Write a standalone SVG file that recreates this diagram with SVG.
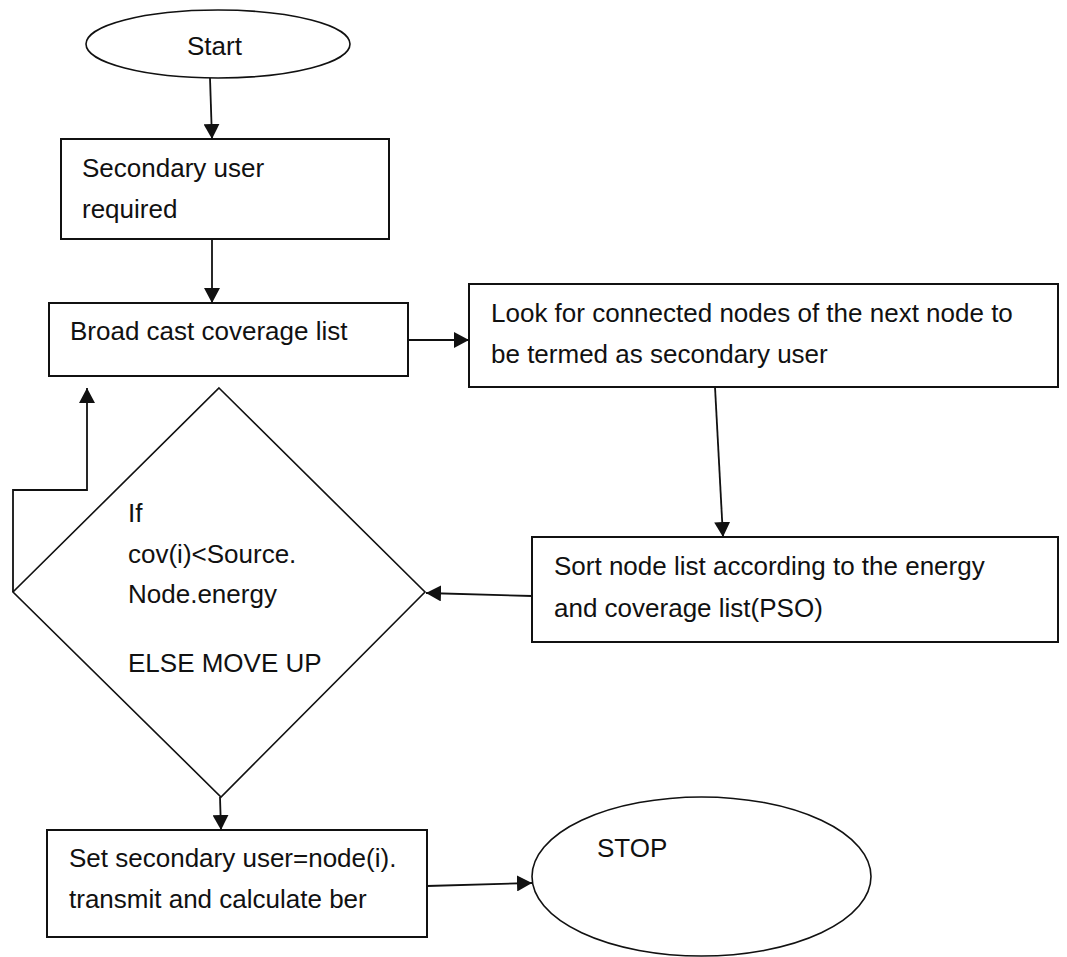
<svg xmlns="http://www.w3.org/2000/svg" width="1067" height="957" viewBox="0 0 1067 957">
  <style>
    .shape { fill: #ffffff; stroke: #111111; stroke-width: 2; }
    .thin { fill: #ffffff; stroke: #111111; stroke-width: 1.6; }
    .conn { fill: none; stroke: #111111; stroke-width: 1.8; }
    text { font-family: "Liberation Sans", Arial, sans-serif; font-size: 26px; fill: #111111; }
  </style>
  <defs>
    <marker id="arrow" markerUnits="userSpaceOnUse" markerWidth="16" markerHeight="16" viewBox="0 0 16 16" refX="15" refY="8" orient="auto">
      <path d="M0,0 L15,8 L0,16 Z" fill="#111111"/>
    </marker>
  </defs>
  <rect width="1067" height="957" fill="#ffffff"/>

  <g id="start">
    <ellipse class="thin" cx="218" cy="44" rx="132" ry="34"/>
    <text x="187" y="55">Start</text>
  </g>

  <g id="secondary-user">
    <rect class="shape" x="61" y="139" width="328" height="100"/>
    <text x="82" y="177">Secondary user</text>
    <text x="82" y="218">required</text>
  </g>

  <g id="broadcast">
    <rect class="shape" x="49" y="303" width="359" height="73"/>
    <text x="70" y="340">Broad cast coverage list</text>
  </g>

  <g id="look-for">
    <rect class="shape" x="469" y="284" width="589" height="103"/>
    <text x="491" y="322">Look for connected nodes of the next node to</text>
    <text x="491" y="363">be termed as secondary user</text>
  </g>

  <g id="sort">
    <rect class="shape" x="532" y="537" width="526" height="105"/>
    <text x="554" y="575">Sort node list according to the energy</text>
    <text x="554" y="617">and coverage list(PSO)</text>
  </g>

  <g id="decision">
    <polygon class="thin" points="219,388 425,592 221,797 13,592"/>
    <text x="128" y="522">If</text>
    <text x="128" y="563">cov(i)&lt;Source.</text>
    <text x="128" y="603">Node.energy</text>
    <text x="128" y="672">ELSE MOVE UP</text>
  </g>

  <g id="set-secondary">
    <rect class="shape" x="47" y="830" width="380" height="107"/>
    <text x="69" y="867">Set secondary user=node(i).</text>
    <text x="69" y="908">transmit and calculate ber</text>
  </g>

  <g id="stop">
    <ellipse class="thin" cx="701.5" cy="876.5" rx="169.5" ry="79.5"/>
    <text x="597" y="857">STOP</text>
  </g>

  <g id="connectors">
    <line class="conn" x1="210" y1="78" x2="212" y2="139" marker-end="url(#arrow)"/>
    <line class="conn" x1="212" y1="239" x2="212" y2="303" marker-end="url(#arrow)"/>
    <line class="conn" x1="408" y1="340" x2="469" y2="340" marker-end="url(#arrow)"/>
    <line class="conn" x1="715" y1="387" x2="723" y2="537" marker-end="url(#arrow)"/>
    <line class="conn" x1="532" y1="596" x2="426" y2="593" marker-end="url(#arrow)"/>
    <polyline class="conn" points="13,592 13,490 87,490 87,388" marker-end="url(#arrow)"/>
    <line class="conn" x1="220" y1="797" x2="221" y2="830" marker-end="url(#arrow)"/>
    <line class="conn" x1="427" y1="886" x2="532" y2="883" marker-end="url(#arrow)"/>
  </g>
</svg>
